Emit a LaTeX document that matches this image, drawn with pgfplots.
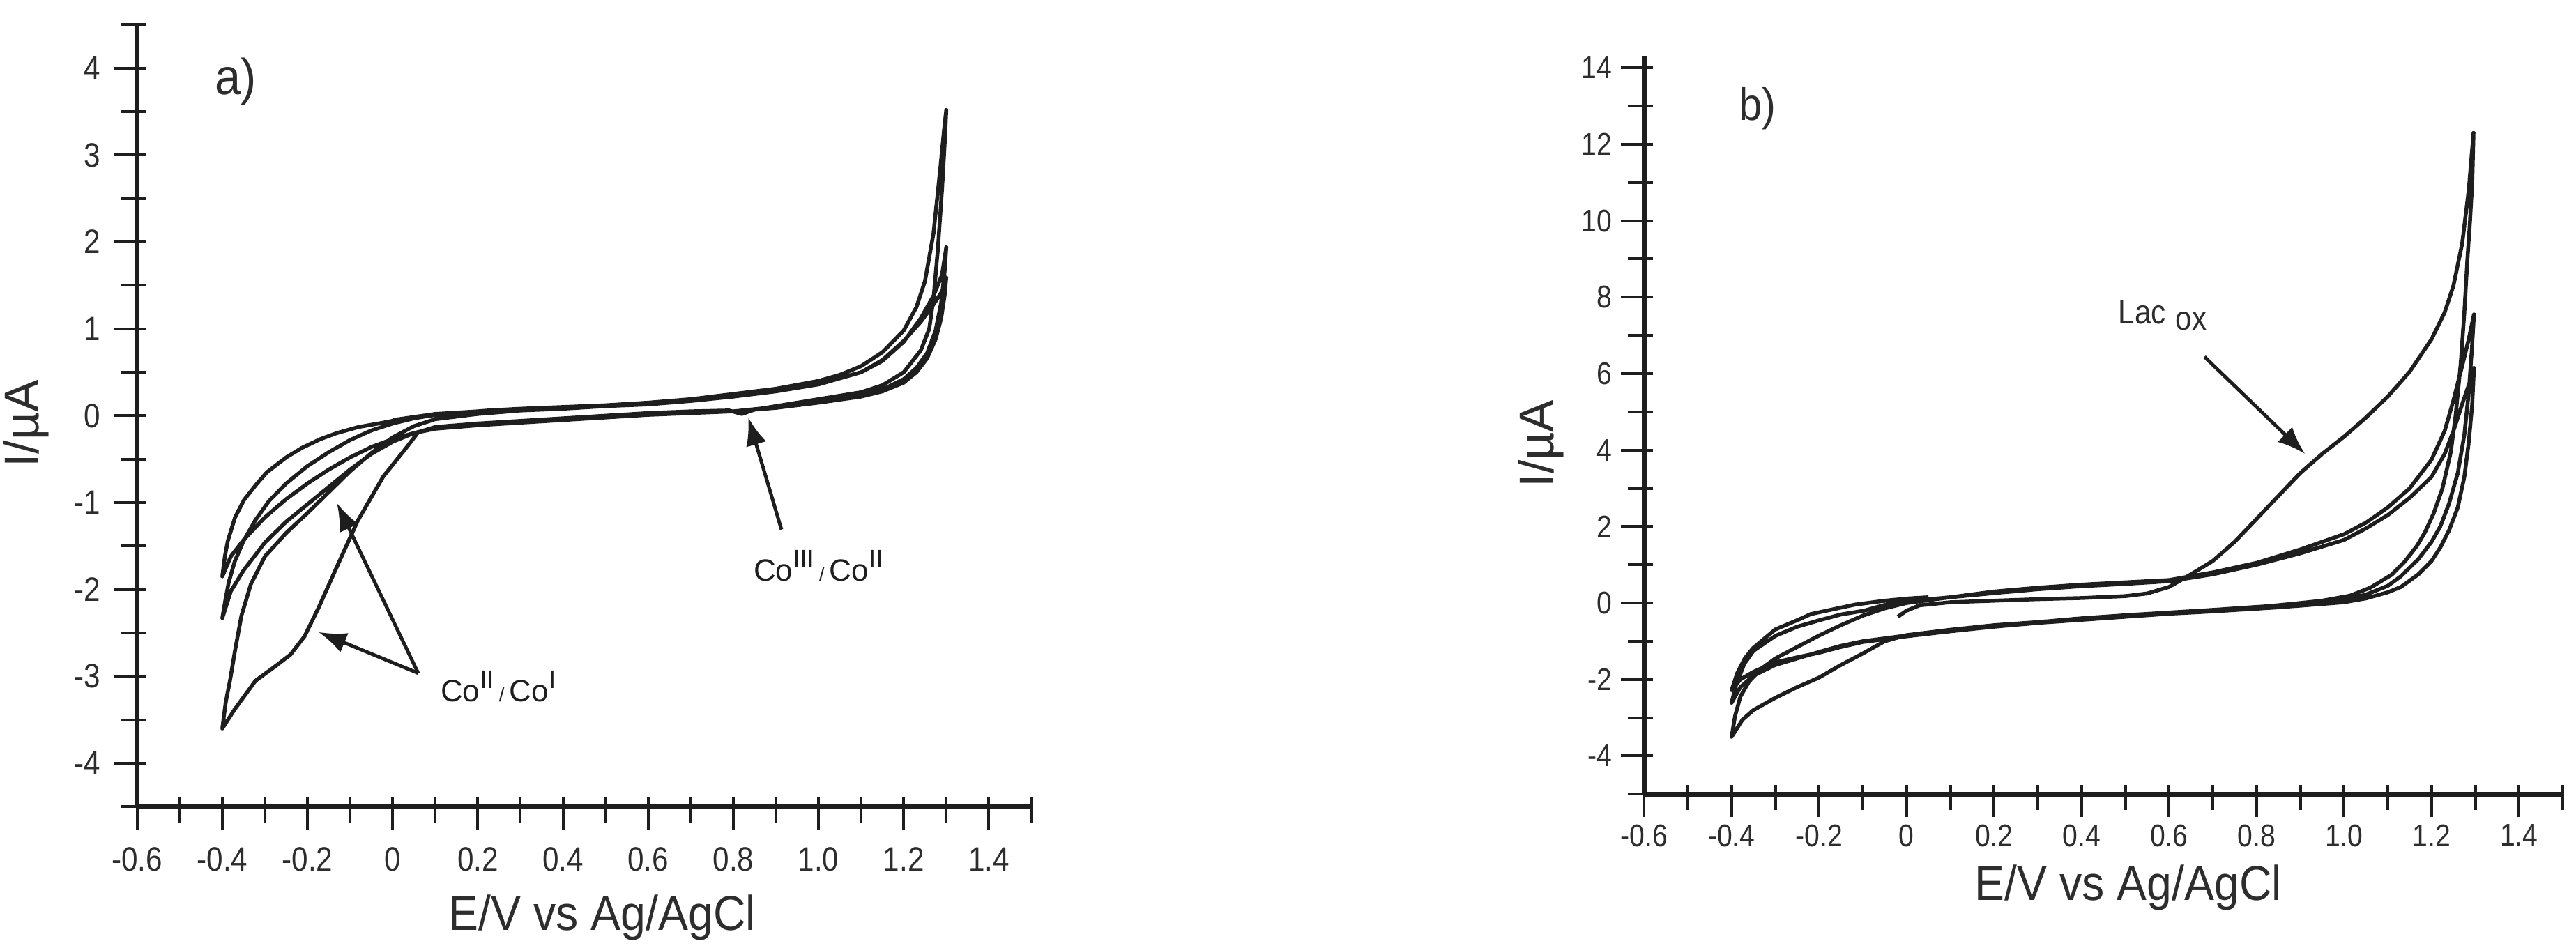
\documentclass[border=0pt]{standalone}
\usepackage{pgfplots}
\pgfplotsset{compat=1.18}
\usepackage{fontspec}
\setmainfont{Liberation Sans}
\newfontfamily\tickfont{Liberation Sans}[FakeStretch=0.87]
\newfontfamily\labfont{Liberation Sans}[FakeStretch=0.92]
\usetikzlibrary{arrows.meta}
\definecolor{ink}{RGB}{30,30,30}
\definecolor{txt}{RGB}{45,45,45}
\newcommand{\cosup}[1]{Co\raisebox{0.42em}{\fontsize{7.3}{7.3}\selectfont #1}}
\newcommand{\slsh}{\,{\fontsize{5.5}{5.5}\selectfont /}\,}
\tikzset{arr/.style={ink, line width=1pt, -{Latex[length=8pt,width=6pt]}}}

\pgfplotsset{
  cvstyle/.style={
    scale only axis,
    axis lines*=left,
    axis line style={ink, line width=1.3pt},
    xmin=-0.6, xmax=1.5,
    xtick={-0.6,-0.4,-0.2,0,0.2,0.4,0.6,0.8,1.0,1.2,1.4},
    xticklabels={-0.6,-0.4,-0.2,0,0.2,0.4,0.6,0.8,1.0,1.2,1.4},
    minor xtick={-0.5,-0.3,-0.1,0.1,0.3,0.5,0.7,0.9,1.1,1.3,1.5},
    tick align=center,
    major tick length=9.2pt,
    minor tick length=7.2pt,
    every tick/.style={ink, line width=0.8pt},
    every major x tick/.append style={yshift=-2pt},
    every minor x tick/.append style={yshift=-1pt},
    every major y tick/.append style={xshift=-2pt},
    every minor y tick/.append style={xshift=-1pt},
    tick label style={text=txt, inner sep=0pt},
    xticklabel style={anchor=north},
    yticklabel style={anchor=east},
    label style={text=txt, inner sep=0pt},
    xlabel style={font=\labfont\fontsize{14}{16}\selectfont},
    ylabel style={font=\fontsize{14}{16}\selectfont},
    clip=false,
  },
  curve/.style={ink, line width=1.1pt, line join=round, mark=none},
}

\begin{document}
\begin{tikzpicture}
\path[use as bounding box] (0pt,0pt) rectangle (739pt,272pt);

% ---------------- panel a ----------------
\begin{axis}[cvstyle,
  at={(39.34pt,40.54pt)}, anchor=south west,
  width=256.56pt, height=224.37pt,
  ymin=-4.5, ymax=4.5,
  ytick={-4,-3,-2,-1,0,1,2,3,4},
  yticklabels={-4,-3,-2,-1,0,1,2,3,4},
  minor ytick={-4.5,-3.5,-2.5,-1.5,-0.5,0.5,1.5,2.5,3.5,4.5},
  tick label style={font=\tickfont\fontsize{9.7}{11}\selectfont},
  xticklabel shift=6.9pt,
  yticklabel shift=5.8pt,
  xlabel={E/V vs Ag/AgCl},
  ylabel={I/µA},
  xlabel style={at={(axis description cs:0.52,0)}, anchor=north, yshift=-25pt},
  ylabel style={at={(axis description cs:-0.1245,0.49)}, anchor=center},
]
\addplot[curve] coordinates {
(0.00,-0.05) (0.1,0.02) (0.2,0.05) (0.3,0.08) (0.4,0.1) (0.5,0.12) (0.6,0.15) (0.7,0.19) (0.8,0.25) (0.9,0.31) (1.0,0.40) (1.05,0.47) (1.1,0.57) (1.15,0.73) (1.2,0.98) (1.23,1.25) (1.25,1.55) (1.27,2.1) (1.285,2.8) (1.295,3.3) (1.30,3.52)
(1.297,3.2) (1.29,2.6) (1.28,1.9) (1.27,1.35) (1.26,1.0) (1.24,0.75) (1.2,0.5) (1.15,0.35) (1.1,0.27) (1.0,0.19) (0.9,0.11) (0.85,0.07) (0.82,0.02) (0.79,0.06) (0.7,0.05) (0.6,0.03) (0.5,0.0) (0.4,-0.03) (0.3,-0.06) (0.2,-0.09) (0.1,-0.13) (0.06,-0.19) (0.032,-0.37) (-0.022,-0.70) (-0.082,-1.21) (-0.131,-1.74) (-0.174,-2.21) (-0.207,-2.54) (-0.24,-2.75) (-0.28,-2.9) (-0.322,-3.05) (-0.371,-3.38) (-0.4,-3.6)
(-0.392,-3.3) (-0.382,-3.05) (-0.37,-2.7) (-0.355,-2.3) (-0.333,-1.94) (-0.3,-1.62) (-0.25,-1.35) (-0.2,-1.12) (-0.15,-0.88) (-0.1,-0.64) (-0.05,-0.43) (0,-0.25) (0.05,-0.12) (0.1,-0.04) (0.2,0.02) (0.3,0.06) (0.4,0.08) (0.5,0.11) (0.6,0.13) (0.7,0.17) (0.8,0.22) (0.9,0.28) (1.0,0.36) (1.1,0.5) (1.15,0.63) (1.2,0.85) (1.24,1.12) (1.27,1.38) (1.29,1.62) (1.30,1.94)
(1.296,1.65) (1.288,1.3) (1.275,0.98) (1.255,0.72) (1.23,0.55) (1.2,0.42) (1.15,0.3) (1.1,0.24) (1.0,0.17) (0.9,0.1) (0.8,0.05) (0.7,0.04) (0.6,0.02) (0.5,-0.01) (0.4,-0.04) (0.3,-0.07) (0.2,-0.1) (0.1,-0.14) (0.05,-0.2) (0,-0.3) (-0.05,-0.44) (-0.1,-0.62) (-0.15,-0.82) (-0.2,-1.02) (-0.25,-1.22) (-0.3,-1.46) (-0.35,-1.78) (-0.38,-2.02) (-0.4,-2.33)
(-0.392,-2.1) (-0.385,-1.92) (-0.371,-1.68) (-0.35,-1.44) (-0.322,-1.2) (-0.29,-0.98) (-0.25,-0.78) (-0.2,-0.58) (-0.15,-0.42) (-0.1,-0.28) (-0.05,-0.17) (0,-0.09) (0.05,-0.03) (0.1,0.01) (0.2,0.04) (0.3,0.07) (0.4,0.09) (0.5,0.11) (0.6,0.14) (0.7,0.18) (0.8,0.23) (0.9,0.29) (1.0,0.37) (1.1,0.5) (1.15,0.64) (1.2,0.86) (1.24,1.08) (1.27,1.28) (1.29,1.43) (1.30,1.59)
(1.296,1.38) (1.288,1.12) (1.275,0.88) (1.255,0.66) (1.23,0.5) (1.2,0.38) (1.15,0.28) (1.1,0.22) (1.0,0.15) (0.9,0.09) (0.8,0.05) (0.7,0.03) (0.6,0.01) (0.5,-0.02) (0.4,-0.05) (0.3,-0.08) (0.2,-0.11) (0.1,-0.15) (0.05,-0.2) (0,-0.27) (-0.05,-0.36) (-0.1,-0.48) (-0.15,-0.62) (-0.2,-0.78) (-0.25,-0.96) (-0.3,-1.17) (-0.35,-1.43) (-0.38,-1.62) (-0.4,-1.85)
(-0.394,-1.62) (-0.387,-1.44) (-0.37,-1.17) (-0.349,-0.97) (-0.32,-0.79) (-0.295,-0.65) (-0.25,-0.48) (-0.213,-0.37) (-0.17,-0.27) (-0.131,-0.2) (-0.08,-0.13) (-0.022,-0.08) (0.03,-0.03) (0.087,0.0) (0.15,0.03) (0.224,0.06) (0.3,0.08)
};
\node[anchor=base west, font=\labfont\fontsize{14.5}{14.5}\selectfont, text=txt, inner sep=0pt] at (axis cs:-0.419,3.70) {a)};
\draw[arr] (axis cs:0.913,-1.31) -- (axis cs:0.835,-0.02);
\node[anchor=base west, font=\fontsize{8.8}{8.8}\selectfont, text=ink, inner sep=0pt] at (axis cs:0.846,-1.90) {\cosup{III}\slsh\cosup{II}};
\draw[arr] (axis cs:0.06,-2.963) -- (axis cs:-0.174,-2.49);
\draw[arr] (axis cs:0.06,-2.963) -- (axis cs:-0.131,-1.005);
\node[anchor=base west, font=\fontsize{8.8}{8.8}\selectfont, text=ink, inner sep=0pt] at (axis cs:0.111,-3.29) {\cosup{II}\slsh\cosup{I}};
\end{axis}

% ---------------- panel b ----------------
\begin{axis}[cvstyle,
  at={(471.66pt,44.14pt)}, anchor=south west,
  width=263.54pt, height=211.69pt,
  ymin=-5, ymax=14.3,
  ytick={-4,-2,0,2,4,6,8,10,12,14},
  yticklabels={-4,-2,0,2,4,6,8,10,12,14},
  minor ytick={-5,-3,-1,1,3,5,7,9,11,13},
  tick label style={font=\tickfont\fontsize{9}{11}\selectfont},
  xticklabel shift=3.9pt,
  yticklabel shift=4.4pt,
  xlabel={E/V vs Ag/AgCl},
  ylabel={I/µA},
  xlabel style={at={(axis description cs:0.527,0)}, anchor=north, yshift=-20pt},
  ylabel style={at={(axis description cs:-0.1123,0.475)}, anchor=center},
]
\addplot[curve] coordinates {
(-0.02,-0.36) (0.0,-0.2) (0.03,-0.06) (0.1,0.02) (0.2,0.06) (0.3,0.1) (0.4,0.13) (0.5,0.18) (0.55,0.25) (0.6,0.42) (0.65,0.75) (0.7,1.1) (0.75,1.6) (0.8,2.2) (0.85,2.8) (0.9,3.4) (0.95,3.9) (1.0,4.35) (1.05,4.85) (1.1,5.4) (1.15,6.05) (1.2,6.9) (1.23,7.6) (1.25,8.3) (1.27,9.4) (1.285,10.8) (1.296,12.3)
(1.293,11.0) (1.288,10.0) (1.282,9.0) (1.275,7.6) (1.267,6.3) (1.255,4.9) (1.244,3.95) (1.225,3.0) (1.205,2.35) (1.185,1.85) (1.167,1.5) (1.14,1.1) (1.109,0.74) (1.06,0.4) (1.013,0.19) (0.95,0.06) (0.9,0.0) (0.83,-0.08) (0.7,-0.18) (0.6,-0.25) (0.5,-0.32) (0.4,-0.4) (0.3,-0.5) (0.2,-0.58) (0.1,-0.7) (0.0,-0.84) (-0.05,-1.0) (-0.1,-1.32) (-0.15,-1.62) (-0.2,-1.95) (-0.25,-2.2) (-0.3,-2.48) (-0.35,-2.8) (-0.375,-3.05) (-0.4,-3.5)
(-0.392,-2.95) (-0.38,-2.45) (-0.36,-2.05) (-0.33,-1.7) (-0.3,-1.45) (-0.25,-1.15) (-0.2,-0.85) (-0.15,-0.58) (-0.1,-0.33) (-0.05,-0.14) (0.0,0.0) (0.1,0.15) (0.2,0.3) (0.3,0.4) (0.4,0.48) (0.5,0.54) (0.6,0.6) (0.7,0.8) (0.8,1.05) (0.9,1.4) (1.0,1.8) (1.05,2.1) (1.1,2.5) (1.15,3.0) (1.2,3.75) (1.23,4.5) (1.25,5.3) (1.27,6.2) (1.285,6.9) (1.297,7.55)
(1.292,6.6) (1.285,5.5) (1.275,4.4) (1.26,3.4) (1.24,2.6) (1.22,2.0) (1.2,1.6) (1.17,1.15) (1.13,0.7) (1.1,0.45) (1.05,0.22) (1.0,0.08) (0.95,0.0) (0.9,-0.05) (0.84,-0.1) (0.7,-0.2) (0.6,-0.27) (0.5,-0.34) (0.4,-0.42) (0.3,-0.5) (0.2,-0.6) (0.1,-0.72) (0.0,-0.85) (-0.1,-1.0) (-0.15,-1.12) (-0.2,-1.28) (-0.25,-1.45) (-0.3,-1.62) (-0.35,-1.9) (-0.38,-2.2) (-0.4,-2.61)
(-0.39,-2.15) (-0.371,-1.59) (-0.35,-1.25) (-0.3,-0.86) (-0.25,-0.62) (-0.199,-0.45) (-0.15,-0.3) (-0.097,-0.2) (-0.05,-0.05) (0.005,0.05) (0.1,0.15) (0.2,0.26) (0.3,0.36) (0.4,0.44) (0.5,0.5) (0.6,0.57) (0.7,0.75) (0.8,1.0) (0.9,1.3) (1.0,1.65) (1.05,1.95) (1.1,2.3) (1.15,2.75) (1.2,3.3) (1.23,3.9) (1.25,4.5) (1.27,5.2) (1.285,5.7) (1.297,6.15)
(1.293,5.2) (1.285,4.2) (1.275,3.3) (1.26,2.5) (1.24,1.9) (1.22,1.45) (1.2,1.1) (1.17,0.75) (1.13,0.42) (1.1,0.28) (1.05,0.12) (1.0,0.02) (0.9,-0.07) (0.84,-0.12) (0.7,-0.22) (0.6,-0.28) (0.5,-0.36) (0.4,-0.44) (0.3,-0.52) (0.2,-0.62) (0.1,-0.74) (0.0,-0.87) (-0.1,-1.02) (-0.15,-1.15) (-0.2,-1.3) (-0.25,-1.42) (-0.3,-1.55) (-0.35,-1.8) (-0.38,-2.0) (-0.4,-2.28)
(-0.387,-1.83) (-0.37,-1.45) (-0.351,-1.18) (-0.3,-0.69) (-0.25,-0.45) (-0.219,-0.29) (-0.15,-0.12) (-0.117,-0.04) (-0.05,0.06) (0.005,0.12) (0.05,0.15)
};
\node[anchor=base west, font=\labfont\fontsize{13}{13}\selectfont, text=txt, inner sep=0pt] at (axis cs:-0.385,12.62) {b)};
\node[anchor=base west, font=\tickfont\fontsize{9.7}{9.7}\selectfont, text=txt, inner sep=0pt] at (axis cs:0.483,7.31) {Lac\hspace{2.8pt}\raisebox{-1.8pt}{ox}};
\draw[arr] (axis cs:0.681,6.44) -- (axis cs:0.911,3.90);
\end{axis}
\end{tikzpicture}
\end{document}
